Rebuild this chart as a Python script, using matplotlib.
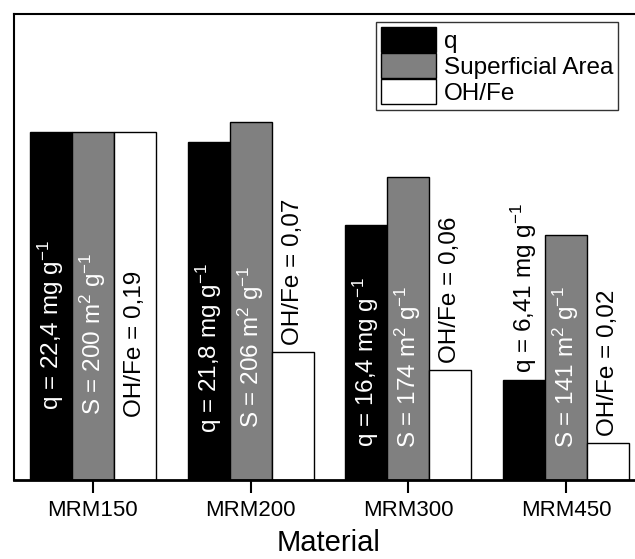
import numpy as np
import matplotlib
matplotlib.use("Agg")
import matplotlib.pyplot as plt

plt.rcParams["font.family"] = ["Liberation Sans", "DejaVu Sans"]
plt.rcParams["mathtext.fontset"] = "custom"
plt.rcParams["mathtext.rm"] = "Liberation Sans"
plt.rcParams["mathtext.it"] = "Liberation Sans:italic"
plt.rcParams["mathtext.default"] = "regular"

# Data
materials = ["MRM150", "MRM200", "MRM300", "MRM450"]
q_values = [22.4, 21.8, 16.4, 6.41]          # mg g-1
area_values = [200, 206, 174, 141]           # m2 g-1
ohfe_values = [0.19, 0.07, 0.06, 0.02]
series_names = ["q", "Superficial Area", "OH/Fe"]

q_text = ["22,4", "21,8", "16,4", "6,41"]
area_text = ["200", "206", "174", "141"]
ohfe_text = ["0,19", "0,07", "0,06", "0,02"]

# Heights are relative to the MRM150 value of each property
def relative(vals):
    v = np.asarray(vals, dtype=float)
    return v / v[0]

series = [relative(q_values), relative(area_values), relative(ohfe_values)]
labels = [
    [f"q = {t} mg g$^{{-1}}$" for t in q_text],
    [f"S = {t} m$^2$ g$^{{-1}}$" for t in area_text],
    [f"OH/Fe = {t}" for t in ohfe_text],
]
fills = ["black", "#808080", "white"]
text_colors = ["white", "white", "black"]

# Bottom of in-bar labels (axis units); None puts the label above the bar
label_base = [
    [0.200, 0.134, 0.094, None],
    [0.186, 0.148, 0.091, 0.091],
    [0.180, None, None, None],
]

W, H = 635, 559
fig = plt.figure(figsize=(W / 100, H / 100), dpi=100)
ax = fig.add_axes([14 / W, 1 - 479.5 / H, 631 / W, 466 / H])

x = np.arange(len(materials))
width = 0.2667
for i, (vals, fc) in enumerate(zip(series, fills)):
    pos = x + (i - 1) * width
    ax.bar(pos, vals, width, color=fc, edgecolor="black", linewidth=1.0,
           label=series_names[i], zorder=2)
    for j, (px, h) in enumerate(zip(pos, vals)):
        base = label_base[i][j]
        if base is None:
            ax.text(px, h + 0.02, labels[i][j], rotation=90, ha="center",
                    va="bottom", fontsize=17.5, color="black", zorder=3)
        else:
            ax.text(px, base, labels[i][j], rotation=90, ha="center",
                    va="bottom", fontsize=17.5, color=text_colors[i], zorder=3)

ax.set_xlim(-0.5, 3.5)
ax.set_ylim(0, 1.342)
ax.set_xticks(x)
ax.set_xticklabels(materials, fontsize=16)
ax.set_yticks([])
ax.tick_params(axis="x", direction="out", length=9, width=1.5, pad=6)
for side in ["left", "top", "right"]:
    ax.spines[side].set_linewidth(1.5)
ax.spines["bottom"].set_linewidth(2.0)

fig.text(329 / W, 1 - 551 / H, "Material", fontsize=21, ha="center",
         va="baseline")

leg = ax.legend(loc="upper left", bbox_to_anchor=(376 / W, 1 - 22 / H),
                bbox_transform=fig.transFigure, fontsize=17.5, frameon=True,
                fancybox=False, edgecolor="black", handlelength=2.25,
                handleheight=1.2, labelspacing=0.02, handletextpad=0.35,
                borderpad=0.2, borderaxespad=0)
leg.get_frame().set_linewidth(1.0)

fig.savefig("out.png", dpi=100)
